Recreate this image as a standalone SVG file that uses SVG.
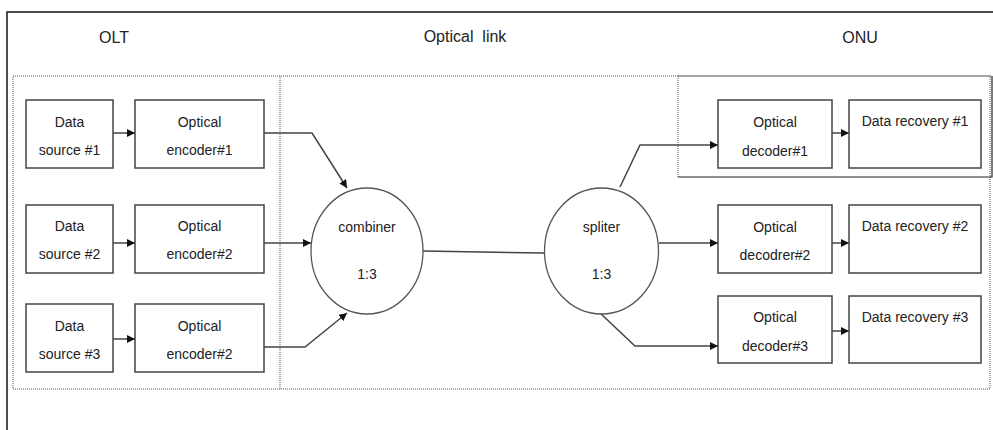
<svg xmlns="http://www.w3.org/2000/svg" width="993" height="430" viewBox="0 0 993 430">
<defs>
<marker id="arr" viewBox="0 0 10 10" refX="10" refY="5" markerWidth="8" markerHeight="8" markerUnits="userSpaceOnUse" orient="auto">
<path d="M0,0 L10,5 L0,10 z" fill="#111"/>
</marker>
</defs>
<style>
text{font-family:"Liberation Sans",Arial,sans-serif;font-size:14px;fill:#222;text-anchor:middle}
.title{font-size:16px;white-space:pre}
.box{fill:#fff;stroke:#444;stroke-width:1.5}
.circ{fill:#fff;stroke:#555;stroke-width:1.3}
.dot{fill:none;stroke:#555;stroke-width:1;stroke-dasharray:1 1}
.conn path{fill:none;stroke:#444;stroke-width:1.5}
.arr{marker-end:url(#arr)}
</style>
<rect width="993" height="430" fill="#fff"/>
<g id="frame">
<path d="M7,430 V12 H993" fill="none" stroke="#111" stroke-width="1.5"/>
<rect class="dot" x="13" y="76" width="977" height="313"/>
<line class="dot" x1="280" y1="76" x2="280" y2="389"/>
<line class="dot" x1="678" y1="76" x2="678" y2="177"/>
<path d="M678,177 H992 V76" fill="none" stroke="#222" stroke-width="1.2"/>
<line x1="678" y1="76" x2="992" y2="76" stroke="#444" stroke-width="1" stroke-dasharray="1 1"/>
</g>
<g id="titles">
<text class="title" x="114" y="43">OLT</text>
<text class="title" x="465" y="42">Optical  link</text>
<text class="title" x="860" y="43">ONU</text>
</g>
<g class="conn" id="connectors">
<path class="arr" d="M113,133 H135"/>
<path class="arr" d="M113,243 H135"/>
<path class="arr" d="M113,339 H135"/>
<path class="arr" d="M264,133 H312 L347,188"/>
<path class="arr" d="M264,243 H311"/>
<path class="arr" d="M264,347 H305 L347,313"/>
<path d="M423,251 L544,253"/>
<path class="arr" d="M620,187 L640,145 H718"/>
<path class="arr" d="M659,243 H718"/>
<path class="arr" d="M600,313 L635,346 H718"/>
<path class="arr" d="M832,133 H849"/>
<path class="arr" d="M832,243 H849"/>
<path class="arr" d="M832,331 H849"/>
</g>
<g id="src1"><rect class="box" x="26" y="100" width="87" height="68"/><text x="69.5" y="127">Data</text><text x="69.5" y="155">source #1</text></g>
<g id="src2"><rect class="box" x="26" y="205" width="87" height="68"/><text x="69.5" y="231">Data</text><text x="69.5" y="259">source #2</text></g>
<g id="src3"><rect class="box" x="26" y="304" width="87" height="68"/><text x="69.5" y="331">Data</text><text x="69.5" y="359">source #3</text></g>
<g id="enc1"><rect class="box" x="135" y="100" width="129" height="68"/><text x="199.5" y="127">Optical</text><text x="199.5" y="155">encoder#1</text></g>
<g id="enc2"><rect class="box" x="135" y="205" width="129" height="68"/><text x="199.5" y="231">Optical</text><text x="199.5" y="259">encoder#2</text></g>
<g id="enc3"><rect class="box" x="135" y="304" width="129" height="68"/><text x="199.5" y="331">Optical</text><text x="199.5" y="359">encoder#2</text></g>
<g id="combiner"><ellipse class="circ" cx="367" cy="251" rx="56" ry="63"/><text x="367" y="232">combiner</text><text x="367" y="279">1:3</text></g>
<g id="spliter"><ellipse class="circ" cx="601.5" cy="251" rx="57" ry="63"/><text x="601.5" y="232">spliter</text><text x="601.5" y="279">1:3</text></g>
<g id="dec1"><rect class="box" x="718" y="100" width="114" height="68"/><text x="775" y="127">Optical</text><text x="775" y="156">decoder#1</text></g>
<g id="dec2"><rect class="box" x="718" y="205" width="114" height="68"/><text x="775" y="232">Optical</text><text x="775" y="260">decodrer#2</text></g>
<g id="dec3"><rect class="box" x="718" y="296" width="114" height="67"/><text x="775" y="322">Optical</text><text x="775" y="351">decoder#3</text></g>
<g id="rec1"><rect class="box" x="849" y="100" width="132" height="68"/><text x="915" y="126">Data recovery #1</text></g>
<g id="rec2"><rect class="box" x="849" y="205" width="132" height="68"/><text x="915" y="231">Data recovery #2</text></g>
<g id="rec3"><rect class="box" x="849" y="296" width="132" height="67"/><text x="915" y="322">Data recovery #3</text></g>
</svg>
